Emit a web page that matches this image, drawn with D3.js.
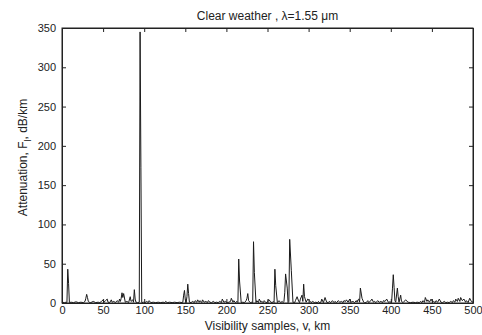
<!DOCTYPE html>
<html lang="en">
<head>
    <meta charset="UTF-8">
    <title>Clear weather attenuation</title>
    <script src="https://d3js.org/d3.v7.min.js"></script>
    <style>
        body { margin: 0; background: #fff; }
        svg { font-family: "Liberation Sans", Arial, sans-serif; }
        .line { fill: none; stroke: #1a1a1a; stroke-width: 1px; }
        .axis text { font-size: 11px; fill: #222; }
        .axis path, .axis line { stroke: #222; }
    </style>
</head>
<body>
    <div id="chart"></div>
    <script>
        // visibility sample index (v) and attenuation F_l in dB/km
        var samples = [0,3,5,6,7,8,9,11,14,17,20,23,26,28,29,30,31,32,33,35,38,41,44,46,48,50,51,53,55,56,58,60,61,63,65,67,69,70,71,72,73,74,75,77,79,81,83,84,86,87,88,89,90,92,94,95,96,97,99,101,103,105,106,108,111,114,117,120,123,125,126,128,131,134,137,140,143,146,147,148,149,150,151,152,153,154,155,157,159,161,162,164,165,167,168,170,171,173,175,177,178,180,182,184,186,188,190,192,194,195,197,199,201,203,205,206,208,209,211,213,214,215,216,218,220,222,224,225,226,227,229,231,232,233,234,236,237,239,240,242,243,245,246,248,250,251,252,254,256,257,258,259,260,262,264,266,268,269,270,271,272,274,275,276,277,279,281,282,283,284,286,288,289,290,292,293,294,295,297,299,301,303,305,307,308,311,312,313,315,316,318,320,322,324,325,327,329,331,332,334,336,338,340,342,343,345,346,348,350,352,354,356,358,359,360,361,362,363,365,367,368,370,372,373,375,377,379,380,382,384,386,388,390,391,393,395,397,398,399,400,401,402,403,404,405,406,408,409,410,412,413,415,418,421,424,427,430,432,435,436,438,439,441,442,444,445,447,449,451,452,454,455,457,459,461,463,465,467,469,471,473,475,476,478,479,481,482,484,485,487,489,491,492,494,496,498,500];
        var attenuation = [1,0.5,1,0.5,43,25,0.5,1,0.5,1.5,0.5,1,0.5,2,6,11,7,2,1,0.5,2,0.5,1,0.5,2,4,1,3,5,1,0.5,4,1,2,0.5,3,1,5,2,6,13,7,12,1,2,0.5,8,2,4,1,17,5,1,0.5,1,345,172,0.5,1,0.5,2,0.5,3,0.5,1,0.5,1,0.5,1,0.5,2,0.5,1,0.5,1,0.5,1,0.5,1,10,16,4,0.5,8,24,12,1,0.5,2,0.5,3,1,4,1,3,0.5,4,1,2,0.5,3,1,0.5,2,0.5,1,0.5,2,0.5,5,1,2,0.5,1,2,6,1,3,0.5,2,0.5,56,28,0.5,1,0.5,3,6,12,3,0.5,1,0.5,78,39,0.5,3,0.5,5,1,2,0.5,3,0.5,1,4,4,1,0.5,2,0.5,43,22,0.5,3,0.5,2,0.5,2,13,37,19,0.5,2,81,41,0.5,1,0.5,3,8,2,0.5,5,10,2,24,8,1,5,3,0.5,2,0.5,1,0.5,2,0.5,1,5,0.5,7,1,0.5,2,0.5,3,0.5,2,0.5,3,1,2,0.5,3,2,4,1,5,1,2,0.5,3,1,4,5,1,19,6,1,0.5,0.5,3,0.5,2,5,1,2,0.5,3,1,2,0.5,3,2,5,1,0.5,2,0.5,1,18,36,20,3,1,19,8,1,10,2,0.5,4,1,0.5,1,0.5,1,0.5,2,0.5,3,1,7,2,4,1,5,1,2,0.5,3,1,5,1,0.5,2,0.5,1,0.5,2,0.5,3,1,5,2,6,2,7,3,5,1,3,0.5,6,2,1,0.5,1,0.5];

        var xTicks = d3.range(0, 501, 50);
        var yTicks = d3.range(0, 351, 50);

        var width = 482, height = 335;
        var margin = { top: 28, right: 9, bottom: 32, left: 62 };
        var w = width - margin.left - margin.right;
        var h = height - margin.top - margin.bottom;

        var svg = d3.select("#chart").append("svg")
            .attr("width", width)
            .attr("height", height);

        var g = svg.append("g")
            .attr("transform", `translate(${margin.left},${margin.top})`);

        var x = d3.scaleLinear().domain([0, 500]).range([0, w]);
        var y = d3.scaleLinear().domain([0, 350]).range([h, 0]);

        var data = samples.map((v, i) => ({ v: v, a: attenuation[i] }));

        var line = d3.line()
            .x(d => x(d.v))
            .y(d => y(d.a));

        g.append("path")
            .datum(data)
            .attr("class", "line")
            .attr("d", line);

        // axes with inward ticks, MATLAB-like box
        g.append("g")
            .attr("class", "axis")
            .attr("transform", `translate(0,${h})`)
            .call(d3.axisBottom(x).tickValues(xTicks).tickSizeInner(-4).tickSizeOuter(0).tickPadding(3));
        g.append("g")
            .attr("class", "axis")
            .call(d3.axisTop(x).tickValues(xTicks).tickSizeInner(-4).tickSizeOuter(0).tickFormat(""));
        g.append("g")
            .attr("class", "axis")
            .call(d3.axisLeft(y).tickValues(yTicks).tickSizeInner(-4).tickSizeOuter(0).tickPadding(6));
        g.append("g")
            .attr("class", "axis")
            .attr("transform", `translate(${w},0)`)
            .call(d3.axisRight(y).tickValues(yTicks).tickSizeInner(-4).tickSizeOuter(0).tickFormat(""));

        g.append("rect")
            .attr("width", w)
            .attr("height", h)
            .attr("fill", "none")
            .attr("stroke", "#222");

        svg.append("text")
            .attr("x", margin.left + w / 2)
            .attr("y", 20)
            .attr("text-anchor", "middle")
            .attr("font-size", "12px")
            .attr("fill", "#222")
            .text("Clear weather , \u03bb=1.55 \u03bcm");

        svg.append("text")
            .attr("x", margin.left + w / 2)
            .attr("y", 330)
            .attr("text-anchor", "middle")
            .attr("font-size", "12px")
            .attr("fill", "#222")
            .text("Visibility samples, v, km");

        var yl = svg.append("text")
            .attr("transform", `translate(27,${margin.top + h / 2 - 8}) rotate(-90)`)
            .attr("text-anchor", "middle")
            .attr("font-size", "12px")
            .attr("fill", "#222");
        yl.append("tspan").text("Attenuation, F");
        yl.append("tspan").attr("dy", 4).attr("font-size", "9px").text("l");
        yl.append("tspan").attr("dy", -4).text(", dB/km");
    </script>
</body>
</html>
